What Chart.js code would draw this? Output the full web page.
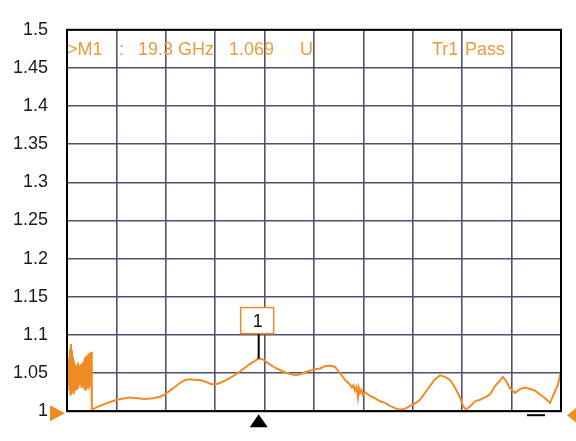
<!DOCTYPE html>
<html>
<head>
<meta charset="utf-8">
<script src="https://cdn.jsdelivr.net/npm/chart.js@4.4.1/dist/chart.umd.min.js"></script>
<style>
  html, body { margin: 0; padding: 0; background: #ffffff; }
  #wrap { width: 576px; height: 441px; position: relative; }
</style>
</head>
<body>
<div id="wrap"><canvas id="c"></canvas></div>
<script>
// Frequency (GHz) of each trace point
const freqGHz = [
  0.00, 0.05, 0.10, 0.15, 0.20, 0.25, 0.30, 0.35, 0.40, 0.45, 0.50, 0.55, 0.60, 0.65, 0.70, 0.75, 0.80,
  0.85, 0.90, 0.95, 1.00, 1.05, 1.10, 1.15, 1.20, 1.25, 1.30, 1.35, 1.40, 1.45, 1.50, 1.55, 1.60, 1.65,
  1.70, 1.75, 1.80, 1.85, 1.90, 1.95, 2.00, 2.05, 2.10, 2.15, 2.20, 2.25, 2.30, 2.35, 2.40, 2.45, 2.50, 2.53,
  2.83, 3.34, 4.15, 5.06, 5.87, 6.38, 7.19, 7.89, 8.70, 9.41, 9.92, 10.42, 10.93, 11.44, 11.94, 12.45,
  12.96, 13.46, 13.97, 14.47, 14.98, 15.49, 15.99, 16.70, 17.51, 18.02, 18.52, 19.03, 19.33, 19.84, 20.34,
  21.05, 21.56, 22.06, 22.57, 23.08, 23.58, 24.09, 24.60, 25.10, 25.61, 26.11, 26.62, 27.13, 27.63, 28.14,
  28.64, 28.85, 29.00, 29.15, 29.30, 29.45, 29.55, 29.66, 29.80, 29.96, 30.16, 30.67, 31.17, 31.68, 32.19,
  32.69, 33.20, 33.70, 34.21, 34.72, 35.22, 35.73, 36.24, 36.74, 37.25, 37.75, 38.26, 38.77, 39.27, 39.78,
  40.08, 40.38, 40.79, 41.30, 41.80, 42.31, 42.81, 43.32, 43.83, 44.13, 44.43, 44.84, 45.34, 45.85, 46.36,
  46.86, 47.37, 47.87, 48.38, 48.89, 49.19, 49.70, 50.00
];
// SWR (U) values of the trace
const swrValues = [
  1.050, 1.040, 1.062, 1.034, 1.070, 1.028, 1.082, 1.022, 1.088, 1.026, 1.080, 1.030, 1.072, 1.024, 1.066, 1.032, 1.062,
  1.028, 1.060, 1.036, 1.058, 1.030, 1.064, 1.034, 1.060, 1.040, 1.056, 1.036, 1.062, 1.032, 1.058, 1.038, 1.064, 1.034,
  1.066, 1.030, 1.070, 1.028, 1.072, 1.032, 1.068, 1.036, 1.074, 1.030, 1.076, 1.040, 1.070, 1.034, 1.078, 1.046, 1.078, 1.002,
  1.004, 1.007, 1.011, 1.015, 1.017, 1.018, 1.017, 1.016, 1.017, 1.019, 1.022, 1.027, 1.032, 1.037, 1.041, 1.042,
  1.041, 1.041, 1.039, 1.036, 1.035, 1.037, 1.040, 1.045, 1.052, 1.057, 1.062, 1.066, 1.069, 1.068, 1.063,
  1.057, 1.054, 1.051, 1.049, 1.047, 1.048, 1.051, 1.053, 1.055, 1.056, 1.059, 1.060, 1.058, 1.050, 1.041,
  1.035, 1.031, 1.034, 1.027, 1.032, 1.018, 1.030, 1.024, 1.028, 1.021, 1.025, 1.020, 1.017, 1.013, 1.011,
  1.007, 1.004, 1.002, 1.003, 1.007, 1.010, 1.015, 1.024, 1.033, 1.042, 1.047, 1.045, 1.041, 1.031, 1.018,
  1.007, 1.002, 1.006, 1.013, 1.015, 1.018, 1.022, 1.033, 1.040, 1.045, 1.040, 1.030, 1.024, 1.029, 1.031,
  1.029, 1.027, 1.022, 1.017, 1.011, 1.020, 1.035, 1.053
];
const yTickValues = [1, 1.05, 1.1, 1.15, 1.2, 1.25, 1.3, 1.35, 1.4, 1.45, 1.5];
const yTickLabels = ['1', '1.05', '1.1', '1.15', '1.2', '1.25', '1.3', '1.35', '1.4', '1.45', '1.5'];
const markerFreq = 19.3;
const markerValue = 1.069;
const markerName = '1';
const headerParts = ['>M1', ':', '19.3 GHz', '1.069', 'U'];
const statusParts = ['Tr1', 'Pass'];

const tracePoints = freqGHz.map((f, i) => ({ x: f, y: swrValues[i] }));
const ORANGE = '#f08c24';
const TEXT_ORANGE = '#eb9a3e';
const GRID = '#4f5372';

const overlay = {
  id: 'overlay',
  afterDraw(chart) {
    const ctx = chart.ctx;
    const a = chart.chartArea;
    const xs = chart.scales.x, ys = chart.scales.y;
    ctx.save();
    // frame
    ctx.strokeStyle = '#000';
    ctx.lineWidth = 2;
    ctx.strokeRect(a.left, a.top, a.right - a.left, a.bottom - a.top);

    // header texts
    ctx.fillStyle = TEXT_ORANGE;
    ctx.font = '18px "Liberation Sans", Arial, sans-serif';
    ctx.textBaseline = 'middle';
    ctx.textAlign = 'left';
    const hx = [a.left, a.left + 52, a.left + 71, a.left + 162, a.left + 233];
    headerParts.forEach((t, i) => ctx.fillText(t, hx[i], a.top + 20));
    const sx = [a.left + 365, a.left + 398];
    statusParts.forEach((t, i) => ctx.fillText(t, sx[i], a.top + 20));

    // marker
    const mx = xs.getPixelForValue(markerFreq);
    const my = ys.getPixelForValue(markerValue);
    const boxW = 33, boxH = 26;
    const boxBottom = my - 25;
    ctx.strokeStyle = '#000';
    ctx.lineWidth = 2;
    ctx.beginPath();
    ctx.moveTo(mx + 1, my);
    ctx.lineTo(mx + 1, boxBottom);
    ctx.stroke();
    ctx.fillStyle = '#fff';
    ctx.fillRect(mx - 17, boxBottom - boxH, boxW, boxH);
    ctx.strokeStyle = ORANGE;
    ctx.lineWidth = 1.5;
    ctx.strokeRect(mx - 17, boxBottom - boxH, boxW, boxH);
    ctx.fillStyle = '#111';
    ctx.textAlign = 'center';
    ctx.fillText(markerName, mx, boxBottom - boxH / 2 + 1);

    // black marker triangle under axis
    ctx.fillStyle = '#000';
    ctx.beginPath();
    ctx.moveTo(mx + 1, a.bottom + 3);
    ctx.lineTo(mx + 10, a.bottom + 16);
    ctx.lineTo(mx - 8, a.bottom + 16);
    ctx.closePath();
    ctx.fill();

    // reference level triangles
    const ry = ys.getPixelForValue(1) + 2;
    ctx.fillStyle = ORANGE;
    ctx.beginPath();
    ctx.moveTo(a.left - 2, ry);
    ctx.lineTo(a.left - 17, ry - 8);
    ctx.lineTo(a.left - 17, ry + 8);
    ctx.closePath();
    ctx.fill();
    ctx.beginPath();
    ctx.moveTo(a.right + 6, ry + 2);
    ctx.lineTo(a.right + 16, ry - 6);
    ctx.lineTo(a.right + 16, ry + 10);
    ctx.closePath();
    ctx.fill();

    // small black dash
    ctx.strokeStyle = '#000';
    ctx.lineWidth = 2;
    ctx.beginPath();
    ctx.moveTo(a.right - 34, a.bottom + 4);
    ctx.lineTo(a.right - 16, a.bottom + 4);
    ctx.stroke();
    ctx.restore();
  }
};

new Chart(document.getElementById('c'), {
  type: 'line',
  data: {
    datasets: [{
      data: tracePoints,
      borderColor: ORANGE,
      borderWidth: 2,
      pointRadius: 0,
      tension: 0,
      fill: false
    }]
  },
  options: {
    responsive: true,
    maintainAspectRatio: false,
    animation: false,
    layout: { padding: { top: 12, right: 15, left: 0, bottom: 0 } },
    plugins: { legend: { display: false }, tooltip: { enabled: false } },
    scales: {
      x: {
        type: 'linear',
        min: 0, max: 50,
        ticks: { display: false, stepSize: 5 },
        grid: { color: GRID, lineWidth: 1.6, drawTicks: false },
        border: { display: false },
        afterFit(scale) { scale.height = 17; }
      },
      y: {
        type: 'linear',
        min: 1, max: 1.5,
        afterBuildTicks(scale) { scale.ticks = yTickValues.map(v => ({ value: v })); },
        ticks: {
          padding: 19,
          color: '#1a1a1a',
          font: { family: '"Liberation Sans", Arial, sans-serif', size: 18 },
          callback(value) {
            const i = yTickValues.findIndex(v => Math.abs(v - value) < 1e-9);
            return i >= 0 ? yTickLabels[i] : '';
          }
        },
        grid: { color: GRID, lineWidth: 1.6, drawTicks: false },
        border: { display: false },
        afterFit(scale) { scale.width = 67; }
      }
    }
  },
  plugins: [overlay]
});
</script>
</body>
</html>
